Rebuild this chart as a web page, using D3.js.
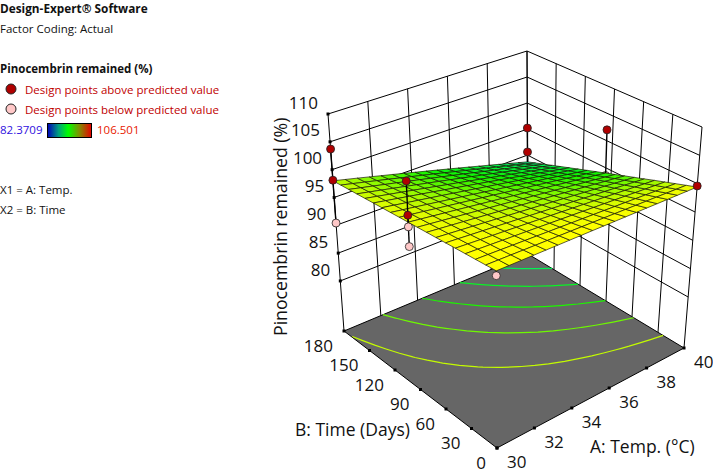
<!DOCTYPE html>
<html><head><meta charset="utf-8">
<script src="https://cdnjs.cloudflare.com/ajax/libs/d3/7.8.5/d3.min.js"></script>
<style>html,body{margin:0;padding:0;background:#fff}svg{display:block}text{font-family:"Open Sans","Noto Sans",sans-serif;fill:#111}</style>
</head><body><svg id="c" width="713" height="473"></svg>
<script>
const tempTicks=[30,32,34,36,38,40];
const timeTicks=[0,30,60,90,120,150,180];
const respTicks=[80,85,90,95,100,105,110];
const respFloor=71;
const contourLevels=[98.1,96.2,94.3,92.4,90.5];
// Response surface, rows = Time 0..180, columns = Temp 30..40 (18 cells each way)
const surfaceZ=[
[100.40,100.34,100.29,100.23,100.18,100.12,100.07,100.01,99.96,99.90,99.84,99.79,99.73,99.68,99.62,99.57,99.51,99.46,99.40],
[100.27,100.19,100.11,100.02,99.94,99.86,99.78,99.70,99.62,99.54,99.46,99.37,99.29,99.21,99.13,99.05,98.97,98.89,98.81],
[100.13,100.03,99.92,99.81,99.71,99.60,99.49,99.39,99.28,99.17,99.07,98.96,98.85,98.75,98.64,98.53,98.42,98.32,98.21],
[100.00,99.87,99.74,99.60,99.47,99.34,99.21,99.07,98.94,98.81,98.68,98.54,98.41,98.28,98.15,98.01,97.88,97.75,97.62],
[99.87,99.71,99.55,99.40,99.24,99.08,98.92,98.76,98.61,98.45,98.29,98.13,97.97,97.82,97.66,97.50,97.34,97.18,97.03],
[99.73,99.55,99.36,99.18,99.00,98.81,98.63,98.44,98.26,98.08,97.89,97.71,97.53,97.34,97.16,96.98,96.79,96.61,96.42],
[99.60,99.39,99.18,98.97,98.76,98.55,98.34,98.14,97.93,97.72,97.51,97.30,97.09,96.88,96.67,96.46,96.25,96.04,95.83],
[99.47,99.23,99.00,98.77,98.53,98.30,98.06,97.83,97.59,97.36,97.12,96.89,96.65,96.42,96.18,95.95,95.71,95.48,95.24],
[99.33,99.07,98.81,98.55,98.29,98.03,97.77,97.51,97.25,96.99,96.72,96.46,96.20,95.94,95.68,95.42,95.16,94.90,94.64],
[99.20,98.91,98.63,98.34,98.06,97.77,97.48,97.20,96.91,96.62,96.34,96.05,95.77,95.48,95.19,94.91,94.62,94.34,94.05],
[99.07,98.76,98.45,98.13,97.82,97.51,97.20,96.89,96.58,96.26,95.95,95.64,95.33,95.02,94.71,94.39,94.08,93.77,93.46],
[98.93,98.59,98.26,97.92,97.58,97.24,96.91,96.57,96.23,95.89,95.56,95.22,94.88,94.54,94.21,93.87,93.53,93.19,92.86],
[98.80,98.44,98.07,97.71,97.35,96.99,96.62,96.26,95.90,95.53,95.17,94.81,94.44,94.08,93.72,93.36,92.99,92.63,92.27],
[98.67,98.28,97.89,97.50,97.12,96.73,96.34,95.95,95.56,95.17,94.78,94.39,94.01,93.62,93.23,92.84,92.45,92.06,91.67],
[98.53,98.12,97.70,97.29,96.87,96.46,96.04,95.63,95.22,94.80,94.39,93.97,93.56,93.14,92.73,92.32,91.90,91.49,91.07],
[98.40,97.96,97.52,97.08,96.64,96.20,95.76,95.32,94.88,94.44,94.00,93.56,93.12,92.68,92.24,91.80,91.36,90.92,90.48],
[98.27,97.80,97.34,96.87,96.41,95.94,95.48,95.01,94.55,94.08,93.62,93.15,92.68,92.22,91.75,91.29,90.82,90.36,89.89],
[98.13,97.64,97.15,96.66,96.17,95.67,95.18,94.69,94.20,93.71,93.22,92.73,92.24,91.75,91.25,90.76,90.27,89.78,89.29],
[98.00,97.48,96.97,96.45,95.93,95.42,94.90,94.38,93.87,93.35,92.83,92.32,91.80,91.28,90.77,90.25,89.73,89.22,88.70]];
const N=surfaceZ.length-1;
// Design points
const designTemp=[30,30,30,30,30,30,30,30,40,40,40,40,40];
const designTime=[180,180,180,90,90,90,90,0,180,180,90,90,0];
const designResp=[103.7,98.1,90.4,106.3,100.4,98.4,95.0,99.6,95.2,90.6,102.0,93.6,99.6];
const designAbove=[1,1,0,1,1,0,0,0,1,1,1,0,1];
const colorZ=[88.4,90,94,97,98.8,99.8];
const colorC=["#18d8b0","#00f060","#10f400","#90fa00","#e4fc00","#ffff00"];

const svg=d3.select("#c");
const uS=d3.scaleLinear().domain([30,40]).range([0,1]);
const vS=d3.scaleLinear().domain([0,180]).range([0,1]);
const wS=d3.scaleLinear().domain([respFloor,110]).range([0,1]);
const color=d3.scaleLinear().domain(colorZ).range(colorC).clamp(true);

// box corners on screen
const F=[497,448],R=[684,348],K=[528,254],L=[344,331];
const Ft=[496,213],Rt=[702,127],Kt=[527,51],Lt=[328,114];
function quad(p0,p1,p2,p3){
  const dx1=p1[0]-p2[0],dy1=p1[1]-p2[1],dx2=p3[0]-p2[0],dy2=p3[1]-p2[1];
  const sx=p0[0]-p1[0]+p2[0]-p3[0],sy=p0[1]-p1[1]+p2[1]-p3[1];
  const den=dx1*dy2-dx2*dy1,g=(sx*dy2-dx2*sy)/den,h=(dx1*sy-sx*dy1)/den;
  return (u,v)=>{const W=1+g*u+h*v;return [
    (p0[0]+(p1[0]-p0[0]+g*p1[0])*u+(p3[0]-p0[0]+h*p3[0])*v)/W,
    (p0[1]+(p1[1]-p0[1]+g*p1[1])*u+(p3[1]-p0[1]+h*p3[1])*v)/W];};
}
const floorH=quad(F,R,K,L),topH=quad(Ft,Rt,Kt,Lt);
function proj(u,v,w){const a=floorH(u,v),b=topH(u,v);return [a[0]+(b[0]-a[0])*w,a[1]+(b[1]-a[1])*w];}
const mix=(a,b,t)=>[a[0]+(b[0]-a[0])*t,a[1]+(b[1]-a[1])*t];
const line=d3.line();

const walls=svg.append("g").attr("fill","none").attr("stroke","#000").attr("stroke-width",1);
function seg(g,a,b){g.append("path").attr("d",line([a,b]));}
tempTicks.forEach(t=>{const f=uS(t);seg(walls,mix(L,K,f),mix(Lt,Kt,f));});
timeTicks.forEach(t=>{const f=vS(t);seg(walls,mix(R,K,f),mix(Rt,Kt,f));});
respTicks.forEach(z=>{const w=wS(z);
  seg(walls,mix(L,Lt,w),mix(K,Kt,w));
  seg(walls,mix(K,Kt,w),mix(R,Rt,w));});

// floor
svg.append("path").attr("d",line([F,R,K,L])+"Z").attr("fill","#666").attr("stroke","#000").attr("stroke-width",1);
// contours on the floor
const ctr=d3.contours().size([N+1,N+1]).smooth(true).thresholds(contourLevels)(surfaceZ.flat());
ctr.forEach(c=>{
  c.coordinates.forEach(poly=>poly.forEach(ring=>{
    let cur=[],best=[];
    ring.forEach(p=>{
      if(p[0]>=.5&&p[0]<=N+.5&&p[1]>=.5&&p[1]<=N+.5){cur.push(p);}
      else{if(cur.length>best.length)best=cur;cur=[];}
    });
    if(cur.length>best.length)best=cur;
    if(best.length>1){
      svg.append("path").attr("fill","none").attr("stroke",color(c.value)).attr("stroke-width",1.2)
       .attr("d",line(best.map(p=>floorH((p[0]-.5)/N,(p[1]-.5)/N))));
    }
  }));
});
// ticks
const tickG=svg.append("g").attr("fill","#000");
const tick=p=>tickG.append("rect").attr("x",p[0]-1.5).attr("y",p[1]-1.5).attr("width",3).attr("height",3);
const FS=17;
tempTicks.forEach(t=>{const p=mix(F,R,uS(t));tick(p);
  svg.append("text").attr("x",p[0]+10).attr("y",p[1]+13.5).attr("dy",".36em").attr("font-size",FS).text(t);});
timeTicks.forEach(t=>{const p=mix(F,L,vS(t));tick(p);
  svg.append("text").attr("x",p[0]-11).attr("y",p[1]+14.5).attr("dy",".36em").attr("text-anchor","end").attr("font-size",FS).text(t);});
respTicks.forEach(z=>{const p=mix(L,Lt,wS(z));tick(p);
  svg.append("text").attr("x",p[0]-10).attr("y",p[1]-11.5).attr("dy",".36em").attr("text-anchor","end").attr("font-size",FS).text(z);});
// design points
const pts=designTemp.map((a,i)=>{const u=uS(a),v=vS(designTime[i]);
  const fz=surfaceZ[Math.round(v*N)][Math.round(u*N)];
  return {u,v,z:designResp[i],s:fz,above:designAbove[i],over:designResp[i]>=fz};});
function drawPts(list){
  const g=svg.append("g");
  list.forEach(d=>{g.append("path").attr("stroke","#000").attr("stroke-width",1.4).attr("fill","none")
    .attr("d",line([proj(d.u,d.v,wS(d.z)),proj(d.u,d.v,wS(d.s))]));});
  list.forEach(d=>{const p=proj(d.u,d.v,wS(d.z));
    g.append("circle").attr("cx",p[0]).attr("cy",p[1]).attr("r",4)
     .attr("fill",d.above?"#b00000":"#ffc8c8").attr("stroke","#222").attr("stroke-width",.8);});
}
drawPts(pts.filter(d=>!d.over));
// surface
const surf=svg.append("g").attr("stroke","#1a1a06").attr("stroke-width",.7).attr("stroke-linejoin","round");
for(let j=N-1;j>=0;j--)for(let i=0;i<N;i++){
  const zs=[surfaceZ[j][i],surfaceZ[j][i+1],surfaceZ[j+1][i+1],surfaceZ[j+1][i]];
  const uv=[[i,j],[i+1,j],[i+1,j+1],[i,j+1]];
  surf.append("path").attr("fill",color(d3.mean(zs)))
   .attr("d",line(uv.map((q,k)=>proj(q[0]/N,q[1]/N,wS(zs[k]))))+"Z");
}
drawPts(pts.filter(d=>d.over));
// axis titles
svg.append("text").attr("x",295).attr("y",436).attr("font-size",17.5).text("B: Time (Days)");
svg.append("text").attr("x",590).attr("y",453).attr("font-size",17.5).text("A: Temp. (°C)");
svg.append("text").attr("transform","translate(287,336) rotate(-90)").attr("font-size",17.7).text("Pinocembrin remained (%)");
// legend
const T=(x,y,s,o={})=>svg.append("text").attr("x",x).attr("y",y).attr("font-size",o.size||11.5).attr("font-weight",o.w||400).style("fill",o.c||"#111").text(s);
T(0,13,"Design-Expert® Software",{w:700,size:11.8});
T(0,33,"Factor Coding: Actual");
T(0,73,"Pinocembrin remained (%)",{w:700,size:11.5});
svg.append("circle").attr("cx",11).attr("cy",89).attr("r",5).attr("fill","#b00000").attr("stroke","#222");
svg.append("circle").attr("cx",11).attr("cy",109).attr("r",5).attr("fill","#ffc8c8").attr("stroke","#222");
T(25,94,"Design points above predicted value",{c:"#c00000"});
T(25,114,"Design points below predicted value",{c:"#c00000"});
const grad=svg.append("defs").append("linearGradient").attr("id","lg");
[[0,"#0000b8"],[.25,"#00a080"],[.47,"#00ff00"],[.72,"#809000"],[1,"#e80000"]].forEach(s=>grad.append("stop").attr("offset",s[0]).attr("stop-color",s[1]));
svg.append("rect").attr("x",47.5).attr("y",123.5).attr("width",44).attr("height",14).attr("fill","url(#lg)").attr("stroke","#000");
T(0,134,"82.3709",{c:"#3010e0"});
T(97,134,"106.501",{c:"#e82000"});
T(0,194,"X1 = A: Temp.");
T(0,214,"X2 = B: Time");
</script></body></html>
